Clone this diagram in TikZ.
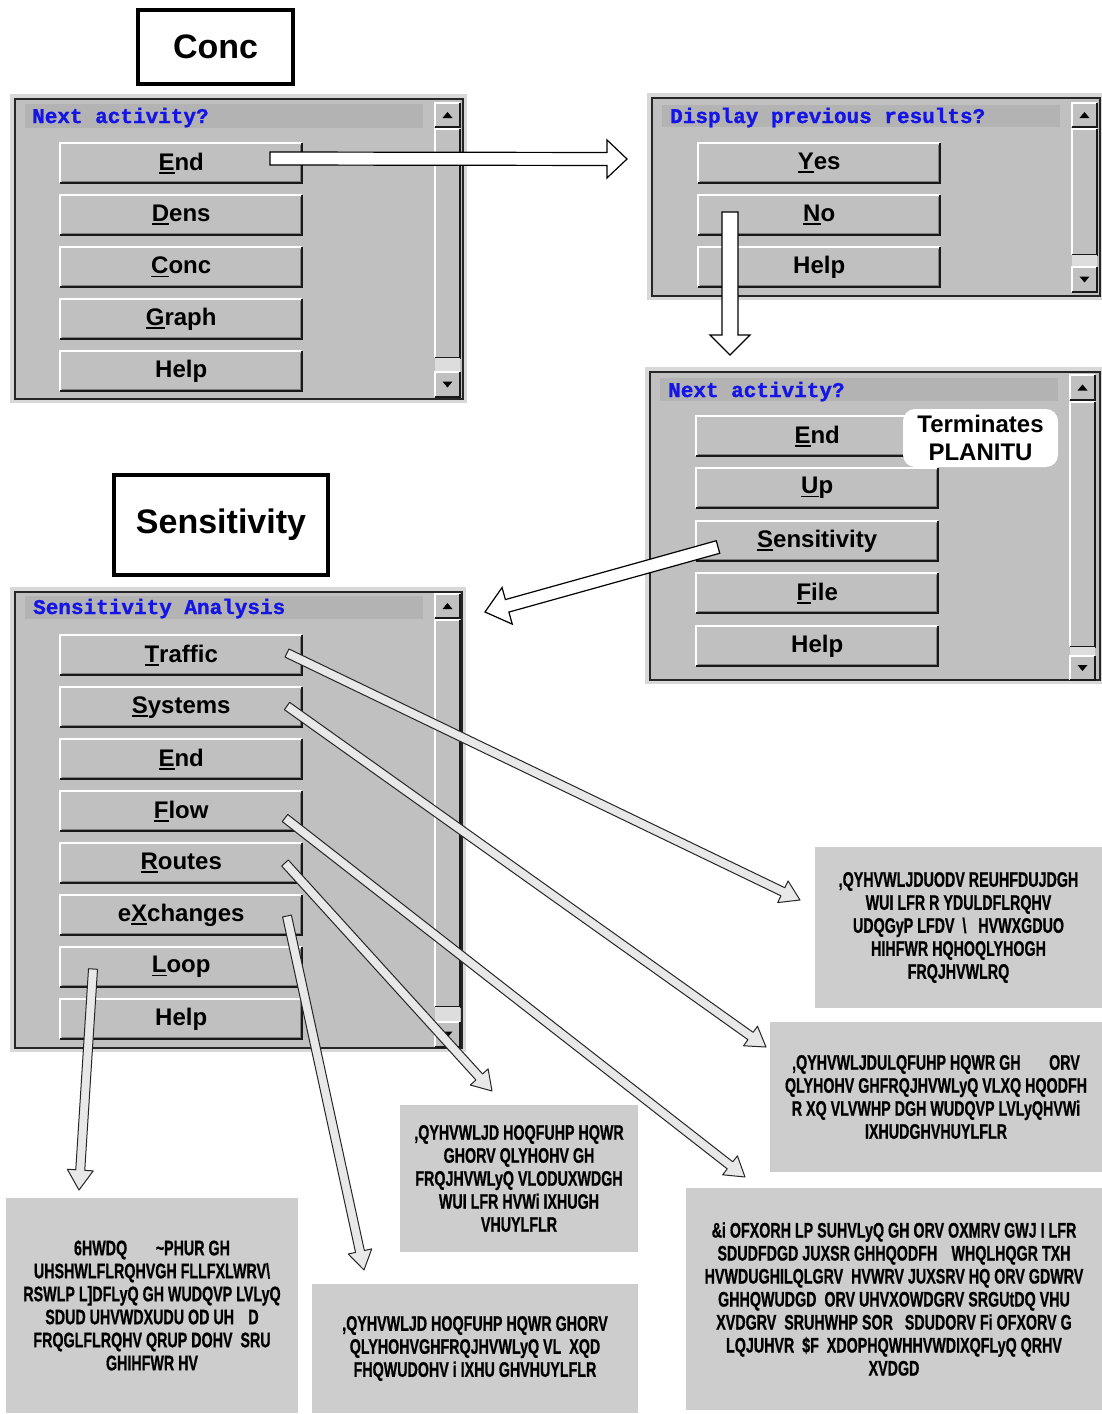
\documentclass[tikz,border=0pt]{standalone}
\usepackage{fontspec}
\setmainfont{Liberation Sans}
\newfontfamily\titlemono{Liberation Mono}[BoldFeatures={FakeBold=1.2}]
\newfontfamily\notefont{Liberation Sans}[BoldFeatures={FakeBold=1.0}]
\usepackage{graphicx}
\usetikzlibrary{calc}

\definecolor{wingray}{HTML}{C0C0C0}
\definecolor{winedge}{HTML}{D8D8D8}
\definecolor{titlestrip}{HTML}{B3B3B3}
\definecolor{boxgray}{HTML}{CDCDCD}
\definecolor{menublue}{HTML}{1414E6}
\definecolor{trackdot}{HTML}{DDDDDD}

% underlined access letter of a button label
\newsavebox\ulbox
\newcommand\ulc[1]{\sbox\ulbox{#1}\rlap{\rule[-3.5pt]{\wd\ulbox}{1.8pt}}\usebox\ulbox}
% condensed line of note text
\newcommand\gl[1]{\scalebox{0.68}[1]{#1}}

% push button: name, left x, top y, label
\newcommand\mkbtn[4]{%
  \node[winbtn] (#1) at (#2,#3) {#4};
  \draw[hilite] (#1.south west) |- (#1.north east);
  \draw[black!50, line width=1pt] ([xshift=1.5pt,yshift=2pt]#1.south west) -| ([xshift=-2pt,yshift=-1.5pt]#1.north east);
  \draw[shade] (#1.south west) -| (#1.north east);
}

% window frame: outer left, top, right, bottom
\newcommand\winframe[4]{%
  \fill[winedge] (#1,#2) rectangle (#3,#4);
  \draw[black!85, line width=2pt, fill=wingray] ({#1+5},{#2+5}) rectangle ({#3-4},{#4-4});
}

% vertical scroll bar: x1, x2, up top, up bottom, dots top, down top, down bottom
\newcommand\scrollbar[7]{%
  \fill[wingray] (#1,#3) rectangle (#2,#4);
  \draw[white, line width=1.5pt] (#1,#4) |- (#2,#3);
  \draw[black!90, line width=1.5pt] (#1,#4) -| (#2,#3);
  \fill[black] ({(#1+#2)/2-5},{(#3+#4)/2+3}) -- ({(#1+#2)/2+5},{(#3+#4)/2+3}) -- ({(#1+#2)/2},{(#3+#4)/2-3}) -- cycle;
  \fill[wingray] (#1,{#4+2}) rectangle (#2,#5);
  \draw[white, line width=1.5pt] (#1,#5) |- (#2,{#4+2});
  \draw[black!90, line width=1.5pt] (#1,#5) -| (#2,{#4+2});
  \fill[trackdot] (#1,#5) rectangle (#2,#6);
  \fill[wingray] (#1,#6) rectangle (#2,#7);
  \draw[white, line width=1.5pt] (#1,#7) |- (#2,#6);
  \draw[black!90, line width=1.5pt] (#1,#7) -| (#2,#6);
  \fill[black] ({(#1+#2)/2-5},{(#6+#7)/2-3}) -- ({(#1+#2)/2+5},{(#6+#7)/2-3}) -- ({(#1+#2)/2},{(#6+#7)/2+3}) -- cycle;
}

% block arrow: [style] from, to, half shaft, half head, head length
\newcommand\blockarrow[6][]{%
  \coordinate (ban) at ($(#3)!#6!(#2)$);
  \draw[#1] ($(#2)!#4!90:(#3)$) -- ($(ban)!#4!90:(#3)$) -- ($(ban)!#5!90:(#3)$)
    -- (#3) -- ($(ban)!#5!-90:(#3)$) -- ($(ban)!#4!-90:(#3)$) -- ($(#2)!#4!-90:(#3)$) -- cycle;
}

\begin{document}
\begin{tikzpicture}[x=1pt, y=-1pt,
  winbtn/.style={anchor=north west, minimum width=242pt, minimum height=40pt, inner sep=0pt,
    fill=wingray, font=\fontsize{24}{28}\selectfont\bfseries},
  hilite/.style={white, line width=2pt},
  shade/.style={black!90, line width=2pt},
  labelbox/.style={draw=black, line width=4pt, fill=white, inner sep=0pt,
    font=\fontsize{34}{40}\selectfont\bfseries},
  textbox/.style={fill=boxgray, inner sep=0pt, align=center,
    font=\notefont\fontsize{21}{23}\selectfont\bfseries},
  wintitle/.style={anchor=base west, inner sep=0pt, text=menublue,
    font=\titlemono\fontsize{21}{24}\selectfont\bfseries},
  hollow/.style={draw=black, fill=white, line width=1.2pt, line join=miter},
  paler/.style={draw=black!85, fill=black!9, line width=1pt, line join=round}]

\useasboundingbox (0,0) rectangle (1102,1414);
\fill[white] (0,0) rectangle (1102,1414);

% ---------- Conc menu ----------
\node[labelbox, minimum width=155pt, minimum height=74pt] (concLabel) at (215.5,47) {Conc};

\winframe{10}{94}{467}{403}
\fill[titlestrip] (25,104) rectangle (423,128);
\node[wintitle] (concTitle) at (32,123) {Next activity?};
\mkbtn{cEnd}{60}{143}{\ulc{E}nd}
\mkbtn{cDens}{60}{195}{\ulc{D}ens}
\mkbtn{cConc}{60}{247}{\ulc{C}onc}
\mkbtn{cGraph}{60}{299}{\ulc{G}raph}
\mkbtn{cHelp}{60}{351}{Help}
\scrollbar{435}{460}{103}{127}{358}{372}{397}

% ---------- Display previous results ----------
\winframe{647}{93}{1104}{300}
\fill[titlestrip] (662,105) rectangle (1060,127);
\node[wintitle] (dispTitle) at (670,123) {Display previous results?};
\mkbtn{dYes}{698}{143}{\ulc{Y}es}
\mkbtn{dNo}{698}{195}{\ulc{N}o}
\mkbtn{dHelp}{698}{247}{Help}
\scrollbar{1072}{1097}{103}{127}{255}{267}{292}

% ---------- Next activity ----------
\winframe{645}{367}{1104}{684}
\fill[titlestrip] (660,378) rectangle (1058,401);
\node[wintitle] (nextTitle) at (668,397) {Next activity?};
\mkbtn{nEnd}{696}{416}{\ulc{E}nd}
\mkbtn{nUp}{696}{468}{\ulc{U}p}
\mkbtn{nSens}{696}{521}{\ulc{S}ensitivity}
\mkbtn{nFile}{696}{573}{\ulc{F}ile}
\mkbtn{nHelp}{696}{626}{Help}
\scrollbar{1070}{1095}{375}{400}{647}{656}{680}
\node[fill=white, rounded corners=12pt, minimum width=155pt, minimum height=58pt, inner sep=0pt,
  align=center, font=\fontsize{24}{28}\selectfont\bfseries] (term) at (980.5,438) {Terminates\\PLANITU};

% ---------- Sensitivity menu ----------
\node[labelbox, minimum width=214pt, minimum height=100pt] (sensLabel) at (221,525) {Sensitivity};

\winframe{10}{587}{466}{1052}
\fill[titlestrip] (25,596) rectangle (423,619);
\node[wintitle] (sensTitle) at (33,614) {Sensitivity Analysis};
\mkbtn{sTraffic}{60}{635}{\ulc{T}raffic}
\mkbtn{sSystems}{60}{687}{\ulc{S}ystems}
\mkbtn{sEnd}{60}{739}{\ulc{E}nd}
\mkbtn{sFlow}{60}{791}{\ulc{F}low}
\mkbtn{sRoutes}{60}{843}{\ulc{R}outes}
\mkbtn{sExch}{60}{895}{e\ulc{X}changes}
\mkbtn{sLoop}{60}{947}{\ulc{L}oop}
\mkbtn{sHelp}{60}{999}{Help}
\scrollbar{435}{460}{594}{618}{1007}{1022}{1047}

% ---------- notes ----------
\node[textbox, minimum width=287pt, minimum height=161pt] (nTraffic) at (958.5,927.5)
  {\gl{,QYHVWLJDUODV REUHFDUJDGH}\\
   \gl{WUI LFR R YDULDFLRQHV}\\
   \gl{UDQGyP LFDV\ \ \textbackslash\ \ \ HVWXGDUO}\\
   \gl{HIHFWR HQHOQLYHOGH}\\
   \gl{FRQJHVWLRQ}};
\node[textbox, minimum width=332pt, minimum height=150pt] (nSystems) at (936,1097)
  {\gl{,QYHVWLJDULQFUHP HQWR GH\quad\quad ORV}\\
   \gl{QLYHOHV GHFRQJHVWLyQ VLXQ HQODFH}\\
   \gl{R XQ VLVWHP DGH WUDQVP LVLyQHVWi}\\
   \gl{IXHUDGHVHUYLFLR}};
\node[textbox, minimum width=238pt, minimum height=147pt] (nRoutes) at (519,1178.5)
  {\gl{,QYHVWLJD HOQFUHP HQWR}\\
   \gl{GHORV QLYHOHV GH}\\
   \gl{FRQJHVWLyQ VLODUXWDGH}\\
   \gl{WUI LFR HVWi IXHUGH}\\
   \gl{VHUYLFLR}};
\node[textbox, minimum width=416pt, minimum height=222pt] (nFlow) at (894,1299)
  {\gl{\&i OFXORH LP SUHVLyQ GH ORV OXMRV GWJ I LFR}\\
   \gl{SDUDFDGD JUXSR GHHQODFH\quad WHQLHQGR TXH}\\
   \gl{HVWDUGHILQLGRV\ \ HVWRV JUXSRV HQ ORV GDWRV}\\
   \gl{GHHQWUDGD\ \ ORV UHVXOWDGRV SRGUtDQ VHU}\\
   \gl{XVDGRV\ \ SRUHWHP SOR\ \ \ SDUDORV Fi OFXORV G}\\
   \gl{LQJUHVR\ \ \$F\ \ XDOPHQWHHVWDIXQFLyQ QRHV}\\
   \gl{XVDGD}};
\node[textbox, minimum width=326pt, minimum height=129pt] (nExch) at (475,1348.5)
  {\gl{,QYHVWLJD HOQFUHP HQWR GHORV}\\
   \gl{QLYHOHVGHFRQJHVWLyQ VL\ \ XQD}\\
   \gl{FHQWUDOHV i IXHU GHVHUYLFLR}};
\node[textbox, minimum width=292pt, minimum height=215pt] (nLoop) at (152,1305.5)
  {\gl{6HWDQ\quad\quad \textasciitilde PHUR GH}\\
   \gl{UHSHWLFLRQHVGH FLLFXLWRV\textbackslash}\\
   \gl{RSWLP L]DFLyQ GH WUDQVP LVLyQ}\\
   \gl{SDUD UHVWDXUDU OD UH\quad D}\\
   \gl{FRQGLFLRQHV QRUP DOHV\ \ SRU}\\
   \gl{GHIHFWR HV}};

% ---------- arrows between menus ----------
\coordinate (fromEnd) at (270,158.5);
\coordinate (toDisp) at (627,159);
\blockarrow[hollow]{fromEnd}{toDisp}{6.5pt}{19pt}{20pt}

\coordinate (fromNo) at (730,212);
\coordinate (toNext) at (730,355);
\blockarrow[hollow]{fromNo}{toNext}{8pt}{20pt}{20pt}

\coordinate (fromSens) at (718,547);
\coordinate (toSens) at (485,612);
\blockarrow[hollow]{fromSens}{toSens}{6.5pt}{19pt}{23pt}

% ---------- arrows to the notes ----------
\coordinate (fromTraffic) at (287,653);
\coordinate (toTraffic) at (800,900);
\blockarrow[paler]{fromTraffic}{toTraffic}{4.5pt}{12pt}{19pt}

\coordinate (fromSystems) at (287,706);
\coordinate (toSystems) at (766,1047);
\blockarrow[paler]{fromSystems}{toSystems}{4.5pt}{12pt}{19pt}

\coordinate (fromFlow) at (285,818);
\coordinate (toFlow) at (745,1177);
\blockarrow[paler]{fromFlow}{toFlow}{4.5pt}{12pt}{19pt}

\coordinate (fromRoutes) at (285,863);
\coordinate (toRoutes) at (492,1091);
\blockarrow[paler]{fromRoutes}{toRoutes}{4.5pt}{12pt}{19pt}

\coordinate (fromExch) at (287,916);
\coordinate (toExch) at (364,1270);
\blockarrow[paler]{fromExch}{toExch}{4.5pt}{12pt}{19pt}

\coordinate (fromLoop) at (93,969);
\coordinate (toLoop) at (79,1190);
\blockarrow[paler]{fromLoop}{toLoop}{4.5pt}{13pt}{20pt}

\end{tikzpicture}
\end{document}
